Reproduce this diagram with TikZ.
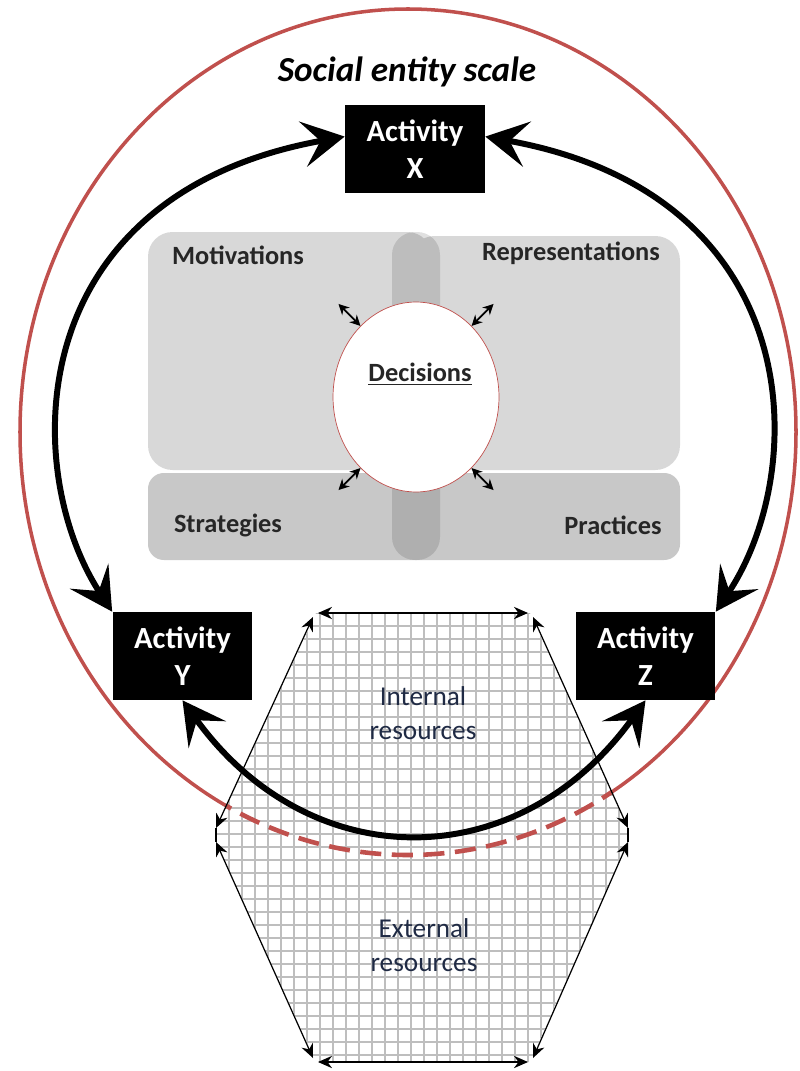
\documentclass[tikz,border=0pt]{standalone}
\usepackage{fontspec}
\setmainfont{Carlito}
\usetikzlibrary{arrows.meta,shapes.geometric}
\definecolor{scalered}{HTML}{C0504D}
\definecolor{paneltop}{HTML}{D8D8D8}
\definecolor{panelbot}{HTML}{C8C8C8}
\definecolor{gridgray}{HTML}{BEBEBE}
\definecolor{textnavy}{HTML}{1F2A44}
\tikzset{
  activity/.style={fill=black, text=white, font=\fontsize{17.5}{21}\selectfont\bfseries,
    align=center, minimum width=2.8cm, minimum height=1.76cm, inner sep=0pt},
  bigarrow/.style={line width=3.4pt,
    {Stealth[length=24pt,width=26pt,inset=10pt]}-{Stealth[length=24pt,width=26pt,inset=10pt]}},
  smallarrow/.style={line width=1pt, {Stealth[length=6pt,width=6pt]}-{Stealth[length=6pt,width=6pt]}},
  hexedge/.style={line width=0.7pt, {Stealth[length=8pt,width=7pt]}-{Stealth[length=8pt,width=7pt]}},
  panellbl/.style={font=\fontsize{15}{17}\selectfont\bfseries, text=black!85},
  resource/.style={font=\fontsize{15.5}{19}\selectfont, text=textnavy, align=center},
  scaleline/.style={draw=scalered, line width=2pt}
}
\begin{document}
\begin{tikzpicture}[x=0.02cm, y=-0.02cm] % social entity scale
  \useasboundingbox (0,0) rectangle (800,1071);
  \draw[scaleline] (408,432) ellipse [x radius=388, y radius=423];
  % central panel
  \fill[paneltop, rounded corners=14pt] (148,232) rectangle (432,470);
  \fill[paneltop, rounded corners=14pt] (410,236) rectangle (680,470);
  \fill[panelbot, rounded corners=9pt] (148,473) rectangle (680,560);
  \fill[black, opacity=0.12, rounded corners=13pt] (392,232) rectangle (440,560);
  \node[ellipse, fill=white, draw=scalered, line width=0.4pt,
    minimum width=3.32cm, minimum height=3.8cm] (dec) at (416,397) {};
  \node[panellbl] (declbl) at (420,374) {\underline{Decisions}};
  \node[panellbl] (motiv) at (238,255) {Motivations};
  \node[panellbl] (repr) at (571,253) {Representations};
  \node[panellbl] (strat) at (228,525) {Strategies};
  \node[panellbl] (pract) at (613,525) {Practices};
  \draw[smallarrow] (dec.128) -- ++(-22,-22);
  \draw[smallarrow] (dec.52) -- ++(22,-22);
  \draw[smallarrow] (dec.232) -- ++(-22,22);
  \draw[smallarrow] (dec.308) -- ++(22,22);
  % resources hexagon
  \coordinate (tl) at (318,613); \coordinate (tr) at (528,613);
  \coordinate (ul) at (313,617); \coordinate (ur) at (533,617);
  \coordinate (ml) at (216,828); \coordinate (mr) at (628,828);
  \coordinate (nl) at (216,842); \coordinate (nr) at (628,842);
  \coordinate (ll) at (313,1058); \coordinate (lr) at (533,1058);
  \coordinate (bl) at (318,1062); \coordinate (br) at (528,1062);
  \begin{scope}
    \clip (316,613) -- (530,613) -- (628,828) -- (628,842) -- (530,1062)
      -- (316,1062) -- (216,842) -- (216,828) -- cycle;
    \fill[white] (200,600) rectangle (640,1071);
    \foreach \gx in {216,229,...,640}
      \draw[gridgray, line width=0.6pt] (\gx,600) -- (\gx,1071);
    \foreach \gy in {613,626,...,1071}
      \draw[gridgray, line width=0.6pt] (200,\gy) -- (640,\gy);
    \draw[scaleline, line width=2.6pt, dash pattern=on 12pt off 6pt]
      (408,432) ellipse [x radius=388, y radius=423];
  \end{scope}
  \draw[hexedge] (tl) -- (tr);
  \draw[hexedge] (ul) -- (ml);
  \draw[hexedge] (ur) -- (mr);
  \draw[hexedge] (nl) -- (ll);
  \draw[hexedge] (nr) -- (lr);
  \draw[hexedge] (bl) -- (br);
  \draw[line width=0.7pt] (ml) -- (nl);
  \draw[line width=0.7pt] (mr) -- (nr);
  \node[resource] (intres) at (423,713) {Internal\\resources};
  \node[resource] (extres) at (424,945) {External\\resources};
  % activities
  \node[font=\fontsize{20}{24}\selectfont\bfseries\itshape] (scale) at (407,72) {Social entity scale};
  \node[activity] (actX) at (415,149) {Activity\\X};
  \node[activity] (actY) at (182.5,656) {Activity\\Y};
  \node[activity] (actZ) at (645.5,656) {Activity\\Z};
  \draw[bigarrow] (actX.170) .. controls (20,195) and (20,470) .. (actY.north west);
  \draw[bigarrow] (actX.10) .. controls (810,195) and (810,470) .. (actZ.north east);
  \draw[bigarrow] (actY.south) .. controls (310,877) and (518,877) .. (actZ.south);
\end{tikzpicture}
\end{document}
